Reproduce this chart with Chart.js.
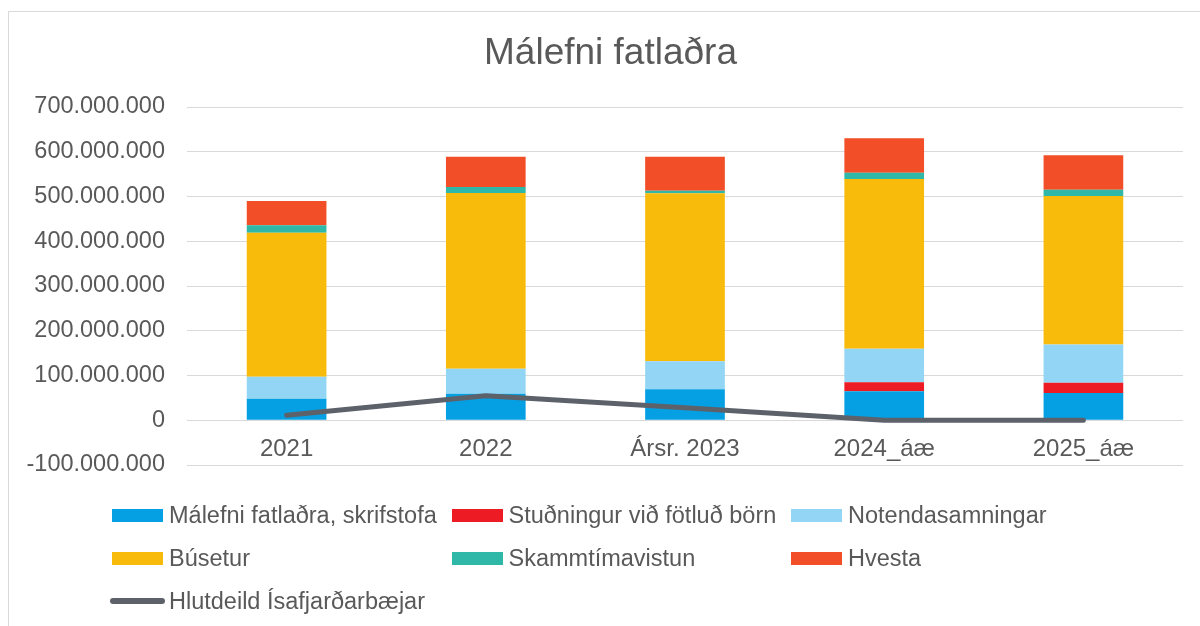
<!DOCTYPE html>
<html>
<head>
<meta charset="utf-8">
<script src="https://cdn.jsdelivr.net/npm/chart.js@4.4.1/dist/chart.umd.min.js"></script>
<style>
  html, body { margin: 0; padding: 0; background: #fff; }
  #wrap { position: relative; width: 1200px; height: 626px; overflow: hidden; }
  #frame { position: absolute; left: 8px; top: 11px; width: 1300px; height: 700px;
           border-left: 1px solid #d9d9d9; border-top: 1px solid #d9d9d9; box-sizing: border-box; }
  canvas { position: absolute; left: 0; top: 0; }
  #title { position: absolute; left: 10.5px; top: 33px; width: 1200px; text-align: center;
           font-family: "Liberation Sans", Arial, sans-serif; font-size: 37px; line-height: 37px;
           color: #595959; white-space: nowrap; }
  .lg { position: absolute; display: flex; align-items: center; height: 30px;
        font-family: "Liberation Sans", Arial, sans-serif; font-size: 23.5px; color: #595959; white-space: nowrap; }
  .sw { width: 51px; height: 13px; margin-right: 6px; flex: none; }
  .ln { width: 55px; height: 6px; border-radius: 3px; margin-right: 4px; margin-left: -2px; flex: none; }
</style>
</head>
<body>
<div id="wrap">
  <div id="frame"></div>
  <canvas id="c" width="1200" height="626"></canvas>
  <div id="title"></div>
  <div id="legend"></div>
</div>
<script>
const categories = ["2021", "2022", "Ársr. 2023", "2024_áæ", "2025_áæ"];
const skrifstofa      = [48000000, 59000000, 69000000, 65000000, 61000000];
const studningur      = [0, 0, 0, 20000000, 23000000];
const notendasamn     = [49000000, 56000000, 63000000, 75000000, 85000000];
const busetur         = [322000000, 393000000, 375000000, 379000000, 332000000];
const skammtima       = [17000000, 13000000, 6000000, 14000000, 14000000];
const hvesta          = [54000000, 68000000, 76000000, 77000000, 77000000];
const hlutdeild       = [11000000, 55000000, 28000000, 0, 0];
const yTicks = { min: -100000000, max: 700000000, step: 100000000 };
const titleText = "Málefni fatlaðra";

const barSeries = [
  { label: "Málefni fatlaðra, skrifstofa", data: skrifstofa, color: "#05a0e3" },
  { label: "Stuðningur við fötluð börn", data: studningur, color: "#ed1c24" },
  { label: "Notendasamningar", data: notendasamn, color: "#93d5f4" },
  { label: "Búsetur", data: busetur, color: "#f9bb0b" },
  { label: "Skammtímavistun", data: skammtima, color: "#2fb8a8" },
  { label: "Hvesta", data: hvesta, color: "#f24e27" }
];
const lineSeries = { label: "Hlutdeild Ísafjarðarbæjar", data: hlutdeild, color: "#5d626a" };

const FONT = "'Liberation Sans', Arial, sans-serif";
const TXT = "#595959";

function fmt(v) {
  const neg = v < 0;
  const s = Math.abs(Math.round(v)).toString().replace(/\B(?=(\d{3})+(?!\d))/g, ".");
  return (neg ? "-" : "") + s;
}

document.getElementById("title").textContent = titleText;

const datasets = barSeries.map(s => ({
  type: "bar", label: s.label, data: s.data, backgroundColor: s.color,
  borderWidth: 0, stack: "bars", barPercentage: 0.4, categoryPercentage: 1.0, order: 1
}));
datasets.push({
  type: "line", label: lineSeries.label, data: lineSeries.data, borderColor: lineSeries.color,
  backgroundColor: lineSeries.color, borderWidth: 5, pointRadius: 0, tension: 0,
  borderCapStyle: "round", borderJoinStyle: "round", stack: "line", order: 0
});

new Chart(document.getElementById("c"), {
  data: { labels: categories, datasets },
  options: {
    responsive: false, animation: false,
    layout: { padding: { left: 0, right: 17, top: 107, bottom: 161 } },
    plugins: {
      legend: { display: false },
      tooltip: { enabled: false },
      title: { display: false }
    },
    scales: {
      x: {
        stacked: true,
        position: { y: 0 },
        grid: { display: false, drawTicks: false },
        border: { display: false },
        ticks: { color: TXT, font: { family: FONT, size: 24 }, padding: 15, maxRotation: 0 }
      },
      y: {
        stacked: true,
        min: yTicks.min, max: yTicks.max,
        afterFit: s => { s.width = 187; },
        grid: { color: "#d9d9d9", lineWidth: 1, drawTicks: false },
        border: { display: false },
        ticks: { stepSize: yTicks.step, color: TXT, font: { family: FONT, size: 23.5 }, padding: 22,
                 callback: v => fmt(v) }
      }
    }
  }
});

// HTML legend built from the series
const legend = document.getElementById("legend");
const items = barSeries.map(s => ({ label: s.label, color: s.color, line: false }))
  .concat([{ label: lineSeries.label, color: lineSeries.color, line: true }]);
items.forEach((it, i) => {
  const col = i % 3, row = Math.floor(i / 3);
  const d = document.createElement("div");
  d.className = "lg";
  d.style.left = (112 + col * 339.5) + "px";
  d.style.top = (500 + row * 43) + "px";
  const sw = document.createElement("span");
  sw.className = it.line ? "ln" : "sw";
  sw.style.background = it.color;
  const t = document.createElement("span");
  t.textContent = it.label;
  d.appendChild(sw); d.appendChild(t);
  legend.appendChild(d);
});
</script>
</body>
</html>
